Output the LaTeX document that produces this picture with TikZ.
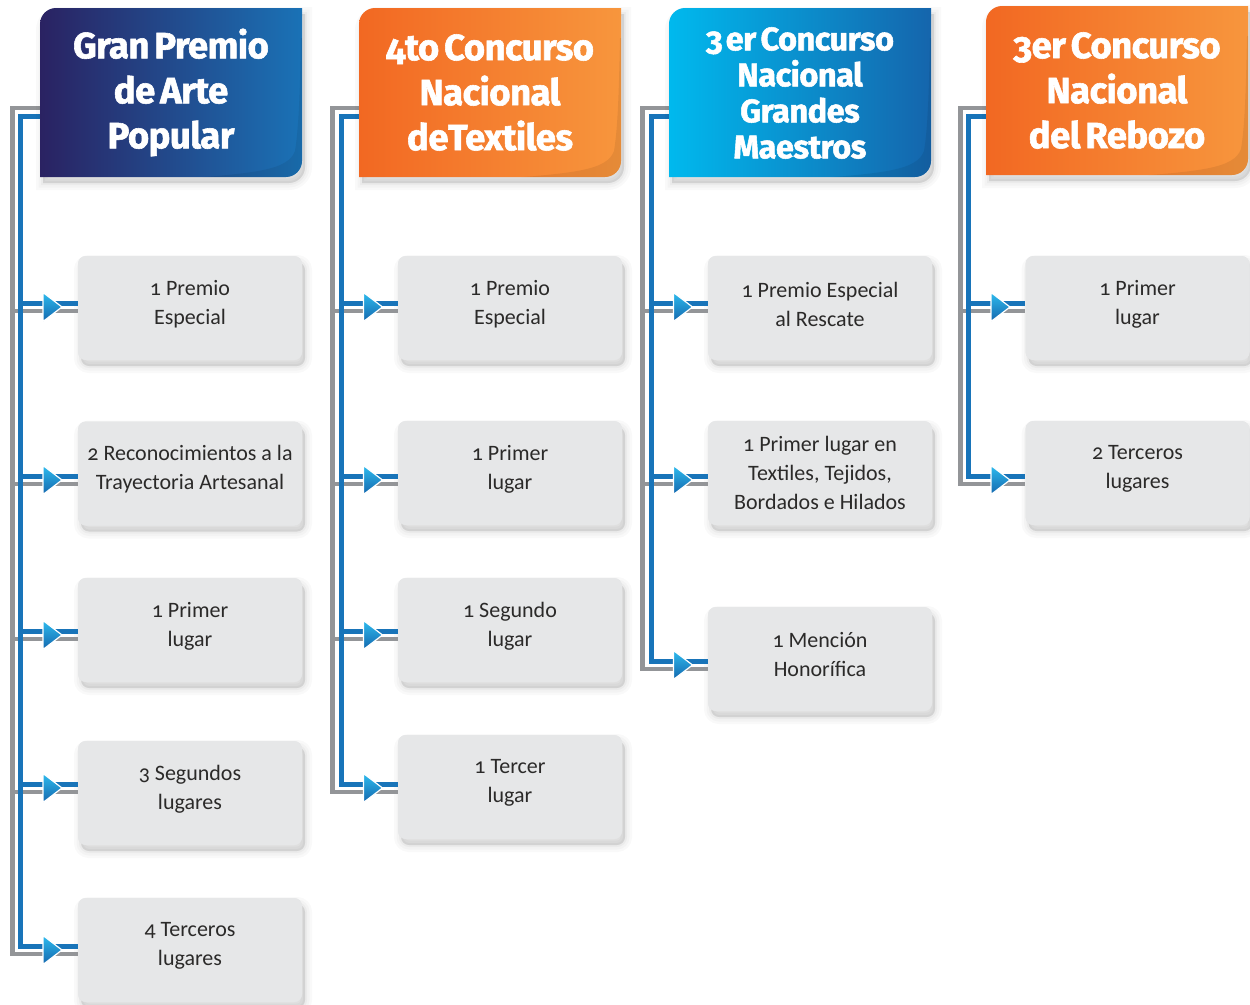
\documentclass[tikz,border=0pt]{standalone}
\usepackage{fontspec}
\setmainfont{Carlito}[Numbers=OldStyle]
\newfontfamily\hfont{Fira Sans}[Numbers=OldStyle, WordSpace=0.6, LetterSpace=-1.5, BoldFeatures={FakeBold=1.6}]
\usetikzlibrary{calc}
\definecolor{boxgray}{HTML}{E6E7E8}
\definecolor{txt}{HTML}{2B2A29}
\definecolor{lgray}{HTML}{939598}
\definecolor{lblue}{HTML}{1874B9}
\definecolor{aLight}{HTML}{2EBBEE}
\definecolor{aDark}{HTML}{1467AE}
\definecolor{navyA}{HTML}{2A2262}
\definecolor{navyB}{HTML}{1A72B6}
\definecolor{orA}{HTML}{F26822}
\definecolor{orB}{HTML}{F7963D}
\definecolor{cyA}{HTML}{00B9EE}
\definecolor{cyB}{HTML}{1565AC}
\tikzset{
  softshadow/.style={
    preaction={fill=black, opacity=.022, draw=black, line width=14pt, transform canvas={shift={(3pt,-6pt)}}},
    preaction={fill=black, opacity=.025, draw=black, line width=9pt, transform canvas={shift={(3pt,-6pt)}}},
    preaction={fill=black, opacity=.03, draw=black, line width=4pt, transform canvas={shift={(3pt,-6pt)}}},
    preaction={fill=black, opacity=.03, transform canvas={shift={(3pt,-6pt)}}}},
  prize/.style={rounded corners=8pt, fill=boxgray, minimum width=224pt, minimum height=104pt, inner sep=0pt, softshadow},
  prizebox/.style={rounded corners=8pt, fill=boxgray, minimum width=224pt, minimum height=104pt, inner sep=0pt},
  prizetext/.style={align=center, text=txt, inner sep=0pt, yshift=4pt, font=\fontsize{22}{29}\selectfont},
  headnode/.style={minimum width=262pt, minimum height=169pt, inner sep=0pt, align=center, text=white, font=\hfont\bfseries\fontsize{36.5}{45}\selectfont},
  grayline/.style={draw=lgray, line width=4.5pt},
  blueline/.style={draw=lblue, line width=5pt},
  tri/.style={top color=aLight, bottom color=aDark, draw=white, line width=1.2pt, line join=miter},
}
\newcommand{\hdrshape}[4]{(#1,#4) -- (#1,#2+16) .. controls (#1,#2+7.2) and (#1+7.2,#2) .. (#1+16,#2) -- (#3,#2) -- (#3,#4-16) .. controls (#3,#4-7.2) and (#3-7.2,#4) .. (#3-16,#4) -- cycle}
\newcommand{\myhdr}[6]{%
  \shade[softshadow, left color=#5, right color=#6] \hdrshape{#1}{#2}{#3}{#4};
  \begin{scope}
    \clip \hdrshape{#1}{#2}{#3}{#4};
    \fill[black, opacity=.07] (#3-120,#4+2) .. controls (#3-50,#4-4) and (#3-14,#4-6) .. (#3-7,#4-26) .. controls (#3-3,#4-50) and (#3-2,#4-90) .. (#3-1,#2+30) -- (#3+2,#2+30) -- (#3+2,#4+2) -- cycle;
  \end{scope}}
\newcommand{\arrowtri}[2]{\path[tri] (#1+22.5,#2-14.5) -- (#1+41.5,#2) -- (#1+22.5,#2+14.5) -- cycle;}
\newcommand{\mycol}[6]{%
  \coordinate (ga) at (#1,108); \coordinate (ba) at (#2,116);
  \coordinate (gz) at (#1,#5+4); \coordinate (bz) at (#2,#5-4);
  \draw[grayline] (#3.west |- ga) -- (ga) -- (gz) -- (#6.west |- gz);
  \foreach \yy/\bb in {#4} {\coordinate (tmp) at (#1,\yy+4); \draw[grayline] (tmp) -- (\bb.west |- tmp);}
  \draw[blueline] (#3.west |- ba) -- (ba) -- (bz) -- (#6.west |- bz);
  \foreach \yy/\bb in {#4} {\coordinate (tmp) at (#2,\yy-4); \draw[blueline] (tmp) -- (\bb.west |- tmp);}
  \foreach \yy/\bb in {#4,#5/#6} {\arrowtri{#2}{\yy}}}
\begin{document}
\begin{tikzpicture}[x=1pt,y=-1pt]
\useasboundingbox (0,0) rectangle (1250,1004);
% header nodes (positions only)
\node[headnode] (h1) at (171,92.5) {};
\node[headnode] (h2) at (490,92.5) {};
\node[headnode] (h3) at (800,92.5) {};
\node[headnode] (h4) at (1117,90.5) {};
% prize boxes
\foreach \n/\yc in {1/308,2/473.5,3/630,4/793,5/950} {\node[prize] (c1r\n) at (190,\yc) {};}
\foreach \n/\yc in {1/308,2/473,3/630,4/787} {\node[prize] (c2r\n) at (510,\yc) {};}
\foreach \n/\yc in {1/308,2/473,3/659} {\node[prize] (c3r\n) at (820,\yc) {};}
\foreach \n/\yc in {1/308,2/473} {\node[prize] (c4r\n) at (1137.5,\yc) {};}
% connectors
\mycol{12.5}{20.5}{h1}{307/c1r1,480/c1r2,635/c1r3,788/c1r4}{950}{c1r5}
\mycol{332.5}{341}{h2}{307/c2r1,480/c2r2,635/c2r3}{788}{c2r4}
\mycol{642.5}{651}{h3}{307/c3r1,480/c3r2}{665}{c3r3}
\mycol{960.5}{968.5}{h4}{307/c4r1}{480}{c4r2}
% redraw box faces on top of connector ends
\foreach \n/\yc in {1/308,2/473.5,3/630,4/793,5/950} {\node[prizebox] at (190,\yc) {};}
\foreach \n/\yc in {1/308,2/473,3/630,4/787} {\node[prizebox] at (510,\yc) {};}
\foreach \n/\yc in {1/308,2/473,3/659} {\node[prizebox] at (820,\yc) {};}
\foreach \n/\yc in {1/308,2/473} {\node[prizebox] at (1137.5,\yc) {};}
% headers
\myhdr{40}{8}{302}{177}{navyA}{navyB}
\myhdr{359}{8}{621}{177}{orA}{orB}
\myhdr{669}{8}{931}{177}{cyA}{cyB}
\myhdr{986}{6}{1248}{175}{orA}{orB}
\node[headnode] (h1t) at (h1.center) {Gran Premio\\de Arte\\Popular};
\node[headnode] (h2t) at (h2.center) {4to Concurso\\Nacional\\deTextiles};
\node[headnode, font=\hfont\bfseries\fontsize{32.5}{36}\selectfont] (h3t) at (800,93) {3\kern3pt er Concurso\\Nacional\\Grandes\\Maestros};
\node[headnode] (h4t) at (h4.center) {3er Concurso\\Nacional\\del Rebozo};
% texts
\node[prizetext] (t11) at (c1r1) {1 Premio\\Especial};
\node[prizetext] (t12) at (c1r2) {2 Reconocimientos a la\\Trayectoria Artesanal};
\node[prizetext] (t13) at (c1r3) {1 Primer\\lugar};
\node[prizetext] (t14) at (c1r4) {3 Segundos\\lugares};
\node[prizetext] (t15) at (c1r5) {4 Terceros\\lugares};
\node[prizetext] (t21) at (c2r1) {1 Premio\\Especial};
\node[prizetext] (t22) at (c2r2) {1 Primer\\lugar};
\node[prizetext] (t23) at (c2r3) {1 Segundo\\lugar};
\node[prizetext] (t24) at (c2r4) {1 Tercer\\lugar};
\node[prizetext] (t31) at (c3r1) {1 Premio Especial\\al Rescate};
\node[prizetext, yshift=-4pt] (t32) at (c3r2) {1 Primer lugar en\\Textiles, Tejidos,\\Bordados e Hilados};
\node[prizetext] (t33) at (c3r3) {1 Mención\\Honorífica};
\node[prizetext] (t41) at (c4r1) {1 Primer\\lugar};
\node[prizetext] (t42) at (c4r2) {2 Terceros\\lugares};
\end{tikzpicture}
\end{document}
